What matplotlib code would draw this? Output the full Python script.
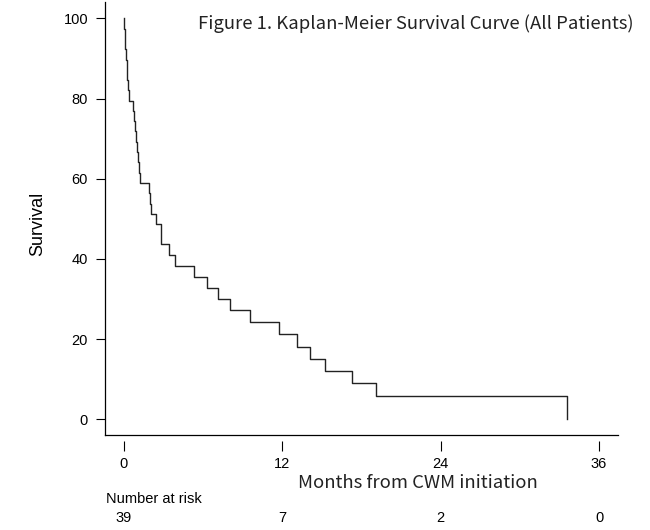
import numpy as np
import matplotlib
matplotlib.use("Agg")
import matplotlib.pyplot as plt

# Kaplan-Meier curve (months, survival %)
times = [0, 0.03, 0.07, 0.11, 0.15, 0.19, 0.23, 0.28, 0.35,
         0.65, 0.75, 0.82, 0.90, 1.00, 1.08, 1.15, 1.21,
         1.89, 1.95, 2.06, 2.39, 2.77, 2.82, 3.39, 3.83, 5.29,
         6.31, 7.14, 8.03, 9.55, 11.74, 13.08, 14.09, 15.23, 17.25, 19.09, 33.54]
survival = [100, 97.4, 94.9, 92.3, 89.7, 87.2, 84.6, 82.1, 79.5,
            76.9, 74.4, 71.8, 69.2, 66.7, 64.1, 61.5, 59.0,
            56.4, 53.8, 51.3, 48.7, 46.2, 43.6, 41.0, 38.2, 35.4,
            32.7, 29.9, 27.2, 24.3, 21.2, 18.1, 15.1, 12.1, 9.0, 5.9, 0]

xticks = [0, 12, 24, 36]
yticks = [0, 20, 40, 60, 80, 100]
at_risk = [39, 7, 2, 0]

W, H = 650, 530
fig = plt.figure(figsize=(6.5, 5.3), dpi=100)

def fx(px):
    return px / W

def fy(py):
    return 1 - py / H

# axes box in pixels: left 105, right 618, top 2.3, bottom 435.3
ax = fig.add_axes([fx(105), fy(435.3), fx(618) - fx(105), fy(2.3) - fy(435.3)])
ax.step(times, survival, where="post", color="#222222", lw=1.0)
ax.set_xlim(-1.44, 37.44)
ax.set_ylim(-4, 104)

ax.spines["top"].set_visible(False)
ax.spines["right"].set_visible(False)
ax.spines["left"].set_linewidth(0.9)
ax.spines["bottom"].set_position(("outward", 4))
ax.spines["bottom"].set_visible(False)
ax.plot([0, 1], [0, 0], transform=ax.transAxes, color="black", lw=0.9, clip_on=False)

sans = ["Liberation Sans", "DejaVu Sans"]
ax.set_yticks(yticks)
ax.set_yticklabels([str(v) for v in yticks], family=sans, fontsize=10.5)
ax.tick_params(axis="y", length=6.2, width=0.8, pad=6)
ax.set_xticks(xticks)
ax.set_xticklabels([str(v) for v in xticks], family=sans, fontsize=10.5)
ax.tick_params(axis="x", length=7, width=0.8, pad=4.5)

fig.text(fx(38), fy(224), "Survival", family=sans, fontsize=13, rotation=90,
         ha="center", va="center")

jp = ["Noto Sans CJK JP", "DejaVu Sans"]
fig.text(fx(634), fy(24), "Figure 1. Kaplan-Meier Survival Curve (All Patients)",
         family=jp, fontsize=13.3, ha="right", va="center", color="#222222")
fig.text(fx(418), fy(483), "Months from CWM initiation",
         family=jp, fontsize=13.3, ha="center", va="center", color="#222222")

fig.text(fx(106), fy(499), "Number at risk", family=sans, fontsize=10.5,
         ha="left", va="center")
for t, n in zip(xticks, at_risk):
    px = ax.transData.transform((t, 0))[0]
    fig.text(px / W, fy(518), str(n), family=sans, fontsize=10.5,
             ha="center", va="center")

fig.savefig("out.png", dpi=100)
